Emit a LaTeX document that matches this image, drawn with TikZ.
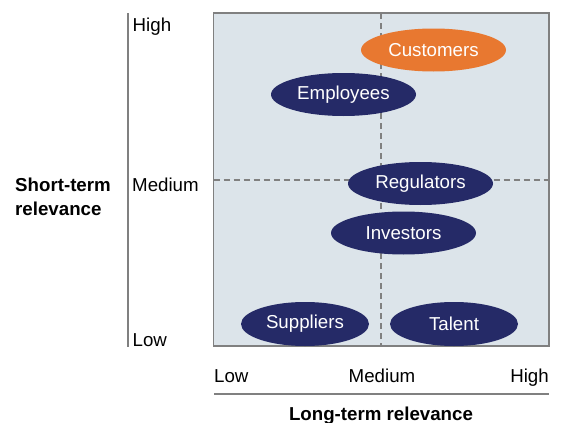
\documentclass[tikz,border=0pt]{standalone}
\usepackage{fontspec}
\setmainfont{Liberation Sans}
\usetikzlibrary{shapes.geometric}
\definecolor{navy}{RGB}{37,42,103}
\definecolor{orng}{RGB}{232,120,48}
\definecolor{panel}{RGB}{220,228,234}
\definecolor{axisgray}{RGB}{128,128,128}
\begin{document}
\begin{tikzpicture}[x=1pt,y=-1pt,
  every node/.style={font=\fontsize{18.7}{22}\selectfont, inner sep=0pt},
  bubble/.style={ellipse, fill=navy, text=white, minimum height=43pt},
  lbl/.style={text=black},
  hd/.style={font=\fontsize{18.7}{24}\selectfont\bfseries, text=black},
  grid/.style={draw=axisgray, line width=1.3pt, dash pattern=on 6pt off 4pt}]
\useasboundingbox (0,0) rectangle (563,423);
% panel
\coordinate (tl) at (213.5,13);
\coordinate (br) at (549,346);
\fill[panel] (tl) rectangle (br);
\draw[grid] (381,13) -- (381,346);
\draw[grid] (213.5,180) -- (549,180);
\draw[axisgray, line width=1.3pt] (tl) rectangle (br);
% axes
\coordinate (vt) at (127.5,13);
\coordinate (vb) at (127.5,347);
\draw[axisgray, line width=2pt] (vt) -- (vb);
\coordinate (hl) at (214,394);
\coordinate (hr) at (549,394);
\draw[axisgray, line width=2pt] (hl) -- (hr);
% axis labels
\node[lbl, anchor=base west] (yh) at (132.5,31.5) {High};
\node[lbl, anchor=base west] (ym) at (132,191) {Medium};
\node[lbl, anchor=base west] (yl) at (132.5,346) {Low};
\node[lbl, anchor=base west] (xl) at (214,382) {Low};
\node[lbl, anchor=base] (xm) at (382,382) {Medium};
\node[lbl, anchor=base east] (xh) at (549,382) {High};
\node[hd, anchor=base] (xt) at (381,420) {Long-term relevance};
\node[hd, anchor=base west, align=left] (yt) at (15,215) {Short-term\\relevance};
% bubbles
\node[bubble, fill=orng, minimum width=145pt] (cust) at (433.5,50) {Customers};
\node[bubble, minimum width=145pt] (empl) at (343.5,94.5) {Employees};
\node[bubble, minimum width=145pt] (reg) at (420.5,183.5) {Regulators};
\node[bubble, minimum width=145pt] (inv) at (403.5,233) {Investors};
\node[bubble, minimum width=128pt, minimum height=44pt] (sup) at (305,324) {Suppliers};
\node[bubble, minimum width=128pt, minimum height=44pt] (tal) at (454,324) {Talent};
\end{tikzpicture}
\end{document}
